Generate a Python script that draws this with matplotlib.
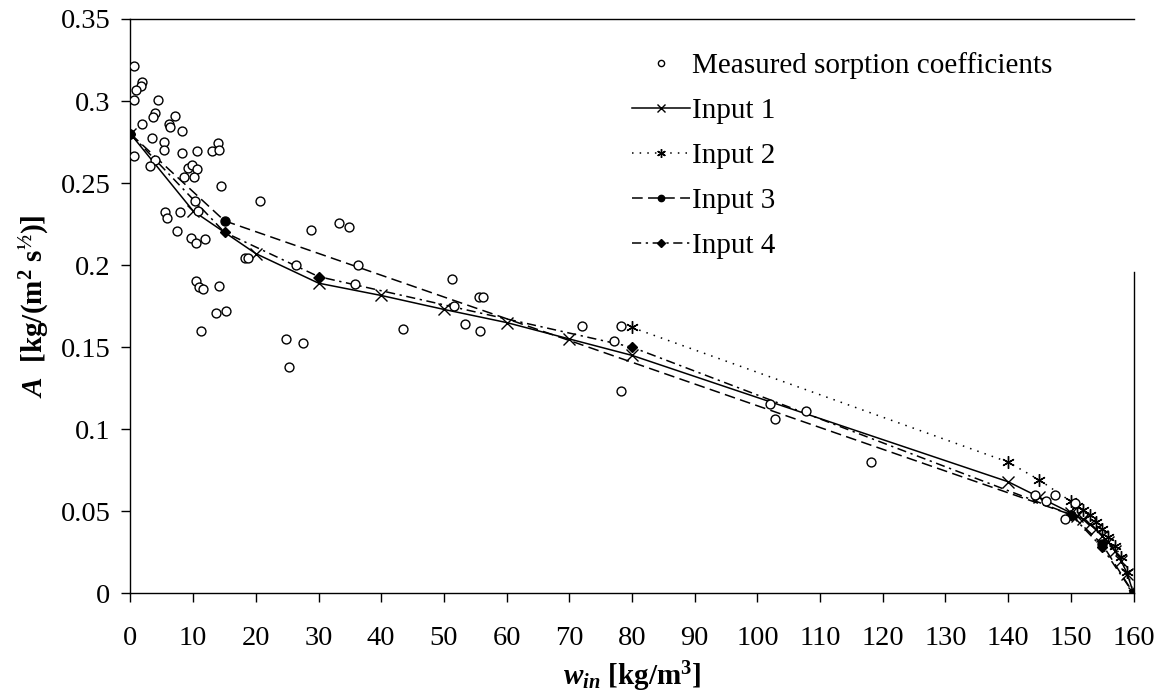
import numpy as np
import matplotlib.pyplot as plt

plt.rcParams['font.family'] = ['Liberation Serif', 'DejaVu Serif']
plt.rcParams['mathtext.fontset'] = 'custom'
plt.rcParams['mathtext.rm'] = 'Liberation Serif'
plt.rcParams['mathtext.it'] = 'Liberation Serif:italic'
plt.rcParams['mathtext.bf'] = 'Liberation Serif:bold'
plt.rcParams['mathtext.bfit'] = 'Liberation Serif:bold:italic'

# measured sorption coefficients
meas_x = [0.56, 1.79, 1.63, 0.88, 0.56, 4.43, 3.91, 3.54, 1.88, 7.14, 6.19, 6.30, 8.26,
          3.38, 5.39, 5.34, 8.26, 10.56, 12.95, 14.0, 14.16, 0.56, 3.91, 3.11, 9.12, 9.86,
          10.56, 10.18, 8.58, 14.39, 10.29, 20.65, 10.72, 5.50, 5.77, 7.89, 7.37, 9.65,
          10.40, 11.88, 18.3, 18.7, 10.45, 10.97, 11.61, 14.07, 13.64, 15.18, 11.29,
          26.35, 28.74, 33.25, 34.85, 36.24, 35.81, 24.80, 27.56, 25.33, 43.41, 51.23,
          51.6, 53.4, 55.63, 56.17, 55.74, 72.06, 78.18, 77.16, 78.18, 102.0, 102.8,
          107.8, 118.2, 144.3, 146.0, 147.5, 149.0, 150.7]
meas_y = [0.3215, 0.3113, 0.3093, 0.3065, 0.3004, 0.3004, 0.2930, 0.2902, 0.2862, 0.2906,
          0.2862, 0.2841, 0.2815, 0.2774, 0.2748, 0.2702, 0.2683, 0.2693, 0.2693, 0.2744,
          0.2702, 0.2667, 0.2642, 0.2606, 0.2591, 0.2612, 0.2585, 0.2540, 0.2534, 0.2484,
          0.2392, 0.2392, 0.2331, 0.2323, 0.2287, 0.2323, 0.2205, 0.2165, 0.2134, 0.2160,
          0.2043, 0.2043, 0.1906, 0.1866, 0.1854, 0.1874, 0.1711, 0.1721, 0.1601,
          0.2002, 0.2215, 0.2254, 0.2232, 0.2002, 0.1884, 0.1551, 0.1524, 0.1382, 0.1612,
          0.1915, 0.1752, 0.1642, 0.1805, 0.1805, 0.1601, 0.1626, 0.1632, 0.1540, 0.1234,
          0.1152, 0.1063, 0.1112, 0.0802, 0.0600, 0.0560, 0.0600, 0.0450, 0.0551]

in1_x = [0, 10, 20, 30, 40, 50, 60, 70, 80, 140, 145, 150, 151, 152, 153, 154, 155, 156,
         157, 158, 159, 160]
in1_y = [0.280, 0.233, 0.207, 0.189, 0.1815, 0.173, 0.165, 0.155, 0.145, 0.068, 0.0585,
         0.049, 0.047, 0.045, 0.042, 0.039, 0.035, 0.031, 0.026, 0.020, 0.012, 0.0]

in2_x = [80, 140, 145, 150, 151, 152, 153, 154, 155, 156, 157, 158, 159, 160]
in2_y = [0.162, 0.080, 0.069, 0.056, 0.0535, 0.0508, 0.0477, 0.0437, 0.039, 0.0345,
         0.0288, 0.0223, 0.0132, 0.0]

in3_x = [0, 15, 150, 155, 160]
in3_y = [0.280, 0.227, 0.048, 0.030, 0.0]

in4_x = [0, 15, 30, 80, 150, 155, 160]
in4_y = [0.280, 0.220, 0.193, 0.150, 0.048, 0.028, 0.0]

fig = plt.figure(figsize=(11.64, 7.0), dpi=100)
ax = fig.add_axes([0.1121, 0.1524, 0.8617, 0.8205])

ax.plot(meas_x, meas_y, 'o', ls='none', mfc='white', mec='black', ms=6.4, mew=1.0,
        label='Measured sorption coefficients', zorder=3)
ax.plot(in1_x, in1_y, '-x', color='black', lw=1.1, ms=8, mew=1.0, label='Input 1')
ax.plot(in2_x, in2_y, color='black', lw=1.1, ls=(0, (1, 4)), marker=(6, 2, 0),
        ms=9, mew=1.0, label='Input 2')
ax.plot(in3_x, in3_y, color='black', lw=1.1, ls=(0, (7, 3.5)), marker='o', ms=6.5,
        label='Input 3')
ax.plot(in4_x, in4_y, color='black', lw=1.1, ls=(0, (6, 3, 1.5, 3)), marker='D', ms=5.5,
        label='Input 4')

ax.set_xlim(0, 160)
ax.set_ylim(0, 0.35)
ax.set_xticks(np.arange(0, 161, 10))
ax.set_yticks(np.arange(0, 0.351, 0.05))
ax.set_yticklabels(['0', '0.05', '0.1', '0.15', '0.2', '0.25', '0.3', '0.35'])
ax.tick_params(axis='both', direction='out', length=6.5, width=1.0, labelsize=20.5, pad=8)
ax.tick_params(axis='x', pad=17)
for s in ax.spines.values():
    s.set_linewidth(1.0)
# legend box hides the upper part of the right border
ax.spines['right'].set_bounds(0, 0.196)

ax.set_xlabel(r'$\mathbfit{w}_{\mathbfit{in}}$ [kg/m$^{\mathbf{3}}$]', fontsize=21,
              fontweight='bold', labelpad=6)
ax.set_ylabel(r'$\mathbfit{A}$  [kg/(m$^{\mathbf{2}}$ s$^{\mathbf{½}}$)]', fontsize=21,
              fontweight='bold', labelpad=7)

leg = ax.legend(loc='upper left', bbox_to_anchor=(0.474, 0.988), fontsize=21,
                frameon=False, handlelength=2.0, handletextpad=0.05,
                labelspacing=0.64, markerscale=0.7)

fig.savefig('out.png', dpi=100)
